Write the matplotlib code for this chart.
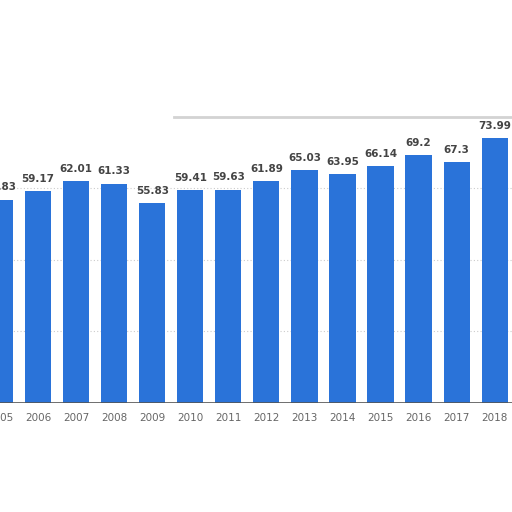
import matplotlib
matplotlib.use("Agg")
import matplotlib.pyplot as plt

years = ["2005", "2006", "2007", "2008", "2009", "2010", "2011", "2012",
         "2013", "2014", "2015", "2016", "2017", "2018"]
values = [56.83, 59.17, 62.0, 61.3, 55.83, 59.41, 59.63, 61.89,
          65.03, 63.95, 66.14, 69.2, 67.3, 73.99]
labels = ["56.83", "59.17", "62.01", "61.33", "55.83", "59.41", "59.63", "61.89",
          "65.03", "63.95", "66.14", "69.2", "67.3", "73.99"]
grid_vals = [20, 40, 60]
top_line = 80

fig = plt.figure(figsize=(5.12, 5.12), dpi=100)
base = 109 / 512
ax = fig.add_axes([0, base, 1, 1 - base])
x = list(range(len(years)))
ax.bar(x, values, width=0.69, color="#2a73d9", zorder=2)
ax.set_xlim(0.052, 13.455)
ax.set_ylim(0, 403 / 3.58)
for g in grid_vals:
    ax.axhline(g, color="#cccccc", lw=0.8, ls=(0, (1, 2)), zorder=1)
ax.axhline(top_line, xmin=0.34, xmax=1.0, color="#c8c8c8", lw=2.0,
           alpha=0.8, zorder=1)
for xi, v, lab in zip(x, values, labels):
    ax.text(xi, v + 2.0, lab, ha="center", va="bottom", fontsize=7.5,
            fontweight="bold", color="#444444", zorder=3)
ax.axhline(0, color="#555555", lw=1.2, zorder=3)
for s in ax.spines.values():
    s.set_visible(False)
ax.set_yticks([])
ax.set_xticks(x)
ax.set_xticklabels(years, fontsize=7.5, color="#666666")
ax.tick_params(axis="x", length=0, pad=7)
ax.set_facecolor("white")
fig.savefig("out.png", dpi=100, facecolor="white")
